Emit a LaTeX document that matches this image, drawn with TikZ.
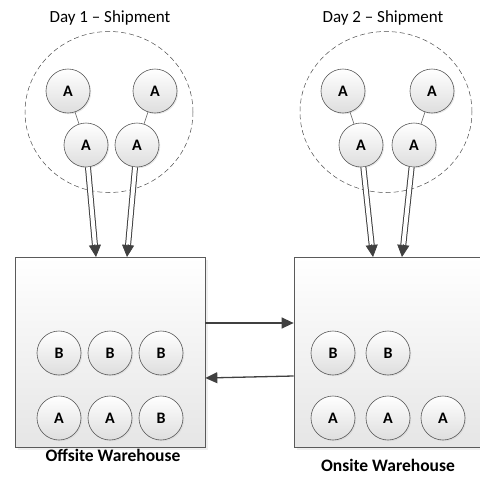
\documentclass[tikz,border=0pt]{standalone}
\usepackage{fontspec}
\setmainfont{Carlito}
\usetikzlibrary{arrows.meta,shadows,shapes.geometric,calc}
\definecolor{edge}{HTML}{404040}
\definecolor{rim}{HTML}{5A5A5A}
\tikzset{
  item/.style={circle, draw=rim, line width=0.6pt, minimum size=44pt, inner sep=0pt,
    top color=white, bottom color=black!13,
    drop shadow={shadow xshift=1.2pt, shadow yshift=-1.2pt, fill=black!18},
    font=\fontsize{16}{18}\selectfont\bfseries},
  house/.style={rectangle, draw=rim, line width=0.7pt, minimum width=190pt, minimum height=190pt,
    inner sep=0pt, top color=white, bottom color=black!10,
    drop shadow={shadow xshift=3pt, shadow yshift=-3pt, fill=black!12}},
  batch/.style={ellipse, draw=black!70, dash pattern=on 5pt off 3pt, line width=0.5pt,
    minimum width=168pt, minimum height=161pt},
  link/.style={draw=rim, line width=0.6pt},
  ship/.style={draw=edge, line width=1pt, double=white, double distance=4pt},
  shiptip/.style={draw=edge, fill=edge, line width=0.7pt, -{Triangle[length=12pt,width=12pt]}},
  move/.style={draw=edge, line width=1.3pt, -{Triangle[length=12pt,width=11pt]}},
  title/.style={font=\fontsize{17}{19}\selectfont},
  caption/.style={font=\fontsize{17.5}{20}\selectfont\bfseries}
}
\begin{document}
\begin{tikzpicture}[x=1pt,y=-1pt]
\useasboundingbox (0,0) rectangle (480,483);
\clip (0,0) rectangle (480,483);

% day 1 shipment
\node[title] (t1) at (110,18) {Day 1 – Shipment};
\node[batch] (g1) at (109,112) {};
\node[item] (a1) at (68,91) {A};
\node[item] (a2) at (155,91) {A};
\node[item] (a3) at (86,145) {A};
\node[item] (a4) at (137,145) {A};
\draw[link] (a1) -- (a3);
\draw[link] (a2) -- (a4);

% day 2 shipment
\node[title] (t2) at (383,18) {Day 2 – Shipment};
\node[batch, minimum width=172pt] (g2) at (386,112) {};
\node[item] (c1) at (343,91) {A};
\node[item] (c2) at (432,91) {A};
\node[item] (c3) at (361,145) {A};
\node[item] (c4) at (414,145) {A};
\draw[link] (c1) -- (c3);
\draw[link] (c2) -- (c4);

% warehouses
\node[house] (L) at (110,352) {};
\node[house] (R) at (389,352) {};
\node[caption] (lt) at (113,455) {Offsite Warehouse};
\node[caption] (rt) at (388,465) {Onsite Warehouse};

% offsite stock
\node[item] (l1) at (59,353) {B};
\node[item] (l2) at (110,353) {B};
\node[item] (l3) at (161,353) {B};
\node[item] (l4) at (59,418) {A};
\node[item] (l5) at (110,418) {A};
\node[item] (l6) at (161,418) {B};

% onsite stock
\node[item] (r1) at (333,353) {B};
\node[item] (r2) at (388,353) {B};
\node[item] (r4) at (333,418) {A};
\node[item] (r5) at (388,418) {A};
\node[item] (r6) at (443,418) {A};

% arrival points on the warehouse roofs
\coordinate (p1) at (96,257);
\coordinate (p2) at (127,257);
\coordinate (p3) at (373,257);
\coordinate (p4) at (402,257);

% double-line deliveries: the twin shaft, then a solid head
\foreach \src/\dst in {a3/p1, a4/p2, c3/p3, c4/p4}{
  \draw[ship] (\src) -- ($(\dst)!10pt!(\src)$);
  \draw[shiptip] ($(\dst)!13pt!(\src)$) -- (\dst);
}

% transfers between warehouses
\draw[move] (L.east |- 0,323) -- (R.west |- 0,323);
\draw[move] (R.west |- 0,376) -- (L.east |- 0,378);
\end{tikzpicture}
\end{document}
